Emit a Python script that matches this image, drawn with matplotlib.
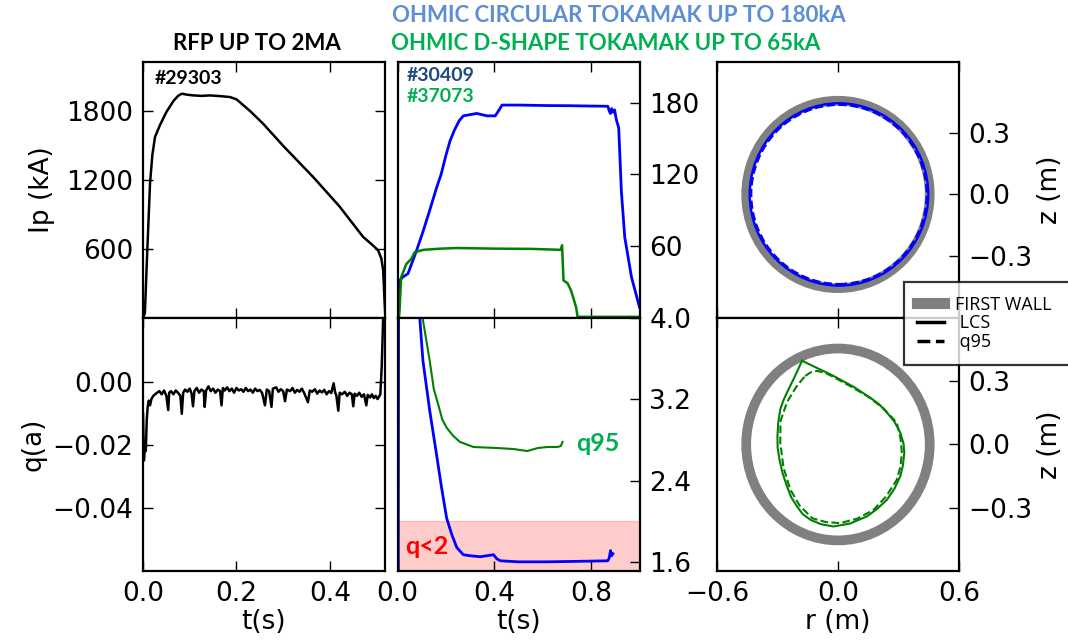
import numpy as np
import matplotlib
matplotlib.use("Agg")
import matplotlib.pyplot as plt
from matplotlib.patches import Circle
from matplotlib.lines import Line2D

# ---------------- DATA ----------------
# RFP plasma current (#29303)
t_rfp = [0.000, 0.004, 0.0092, 0.015, 0.020, 0.0257, 0.036, 0.050, 0.065, 0.075, 0.083, 0.095, 0.108,
         0.125, 0.143, 0.165, 0.186, 0.200, 0.207, 0.230, 0.257, 0.300, 0.364, 0.420, 0.471,
         0.490, 0.503, 0.510, 0.514, 0.517, 0.519]
ip_rfp = [0, 43, 591, 1171, 1420, 1577, 1678, 1794, 1890, 1935, 1954, 1945, 1939,
          1935, 1939, 1933, 1925, 1905, 1881, 1800, 1693, 1500, 1229, 975, 707,
          640, 591, 520, 417, 150, 0]

# RFP reversal parameter q(a)
t_qa = [0.000, 0.002, 0.004, 0.006, 0.008, 0.010, 0.0124, 0.015, 0.018, 0.022, 0.026,
        0.030, 0.035, 0.040, 0.045, 0.050, 0.054, 0.056, 0.060, 0.065, 0.070, 0.075,
        0.080, 0.083, 0.086, 0.090, 0.095, 0.100, 0.104, 0.107, 0.110, 0.115, 0.120,
        0.125, 0.130, 0.132, 0.135, 0.140, 0.145, 0.150, 0.155, 0.160, 0.165, 0.168,
        0.171, 0.175, 0.180, 0.185, 0.190, 0.195, 0.200, 0.205, 0.210, 0.215, 0.220,
        0.225, 0.230, 0.235, 0.240, 0.245, 0.250, 0.255, 0.261, 0.265, 0.270, 0.275,
        0.278, 0.285, 0.290, 0.295, 0.300, 0.304, 0.308, 0.315, 0.320, 0.325, 0.330,
        0.335, 0.340, 0.345, 0.353, 0.357, 0.362, 0.368, 0.373, 0.378, 0.383, 0.388,
        0.393, 0.398, 0.403, 0.408, 0.411, 0.414, 0.418, 0.421, 0.426, 0.432, 0.437,
        0.442, 0.447, 0.450, 0.453, 0.458, 0.463, 0.468, 0.473, 0.478, 0.481, 0.486,
        0.490, 0.494, 0.498, 0.502, 0.505, 0.508, 0.511, 0.513, 0.515]
qa = [-0.010, -0.025, -0.020, -0.022, -0.012, -0.008, -0.006, -0.0075, -0.0055, -0.0045, -0.0040,
      -0.0035, -0.0030, -0.0040, -0.0028, -0.0045, -0.0090, -0.0035, -0.0030, -0.0040, -0.0028, -0.0035,
      -0.0045, -0.0102, -0.0035, -0.0025, -0.0032, -0.0022, -0.0038, -0.0078, -0.0030, -0.0020, -0.0035,
      -0.0025, -0.0030, -0.0080, -0.0028, -0.0015, -0.0030, -0.0022, -0.0035, -0.0025, -0.0030, -0.0075,
      -0.0020, -0.0028, -0.0018, -0.0030, -0.0022, -0.0035, -0.0020, -0.0028, -0.0024, -0.0032, -0.0020,
      -0.0030, -0.0025, -0.0035, -0.0022, -0.0030, -0.0026, -0.0036, -0.0075, -0.0025, -0.0030, -0.0080,
      -0.0022, -0.0018, -0.0032, -0.0024, -0.0030, -0.0062, -0.0025, -0.0030, -0.0020, -0.0035, -0.0026,
      -0.0032, -0.0022, -0.0036, -0.0065, -0.0028, -0.0032, -0.0024, -0.0038, -0.0028, -0.0034, -0.0026,
      -0.0040, -0.0030, -0.0036, -0.0005, -0.0032, -0.0045, -0.0092, -0.0035, -0.0040, -0.0032, -0.0045,
      -0.0035, -0.0040, -0.0078, -0.0038, -0.0045, -0.0035, -0.0048, -0.0040, -0.0075, -0.0042, -0.0050,
      -0.0040, -0.0052, -0.0045, -0.0055, -0.0048, -0.0040, 0.0050, 0.0150, 0.0250]

# Ohmic circular tokamak Ip (#30409)
t_circ = [0.000, 0.004, 0.008, 0.020, 0.043, 0.078, 0.105, 0.133, 0.160, 0.180, 0.200,
          0.217, 0.235, 0.255, 0.272, 0.300, 0.327, 0.370, 0.404, 0.420, 0.432, 0.500, 0.619,
          0.700, 0.800, 0.869, 0.875, 0.880, 0.885, 0.890, 0.897, 0.904, 0.914, 0.925,
          0.939, 0.967, 1.000]
ip_circ = [0, 5, 31, 34, 37, 56, 72, 90, 108, 120, 136,
           148, 157, 165, 169, 170, 171, 169, 169, 174, 178, 178, 177.6,
           177.5, 177.2, 177, 173, 171, 175, 172, 174, 166, 159, 106,
           67.5, 34, 9]

# Ohmic D-shape tokamak Ip (#37073)
t_dsh = [0.006, 0.008, 0.015, 0.036, 0.057, 0.071, 0.107, 0.180, 0.246, 0.400, 0.550,
         0.675, 0.680, 0.683, 0.686, 0.703, 0.717, 0.738, 0.744, 0.800, 1.000]
ip_dsh = [0, 5, 34, 45, 49.5, 55, 57, 58, 58.5, 58, 57.8,
          57, 60.8, 45, 31.4, 29, 23, 9, 1, 1, 1]

# Circular tokamak q95
t_qc = [0.003, 0.006, 0.050, 0.092, 0.105, 0.133, 0.161, 0.182, 0.203, 0.224, 0.245,
        0.272, 0.300, 0.342, 0.397, 0.410, 0.425, 0.500, 0.619, 0.750, 0.869, 0.875,
        0.880, 0.885, 0.890]
q_circ = [1.0, 8.0, 8.0, 4.0, 3.58, 3.09, 2.66, 2.33, 2.03, 1.87, 1.74,
          1.67, 1.66, 1.65, 1.67, 1.63, 1.61, 1.60, 1.60, 1.605, 1.61, 1.64,
          1.71, 1.66, 1.68]

# D-shape tokamak q95
t_qd = [0.095, 0.105, 0.133, 0.150, 0.168, 0.185, 0.203, 0.230, 0.258, 0.314, 0.411,
        0.480, 0.536, 0.580, 0.619, 0.661, 0.675, 0.682]
q_dsh = [5.0, 3.98, 3.58, 3.30, 3.15, 3.00, 2.92, 2.84, 2.78, 2.73, 2.72,
         2.71, 2.69, 2.72, 2.73, 2.73, 2.74, 2.78]

# Poloidal cross sections
wall_radius = 0.455
circ_lcs_radius = 0.443
circ_q95_radius = 0.435
circ_center = (0.005, 0.0)

lcs_r = [-0.178, -0.100, -0.022, 0.080, 0.160, 0.205, 0.243, 0.280, 0.309, 0.325, 0.329,
         0.322, 0.309, 0.280, 0.243, 0.195, 0.144, 0.060, -0.022,
         -0.085, -0.137, -0.175, -0.203, -0.232, -0.253, -0.275, -0.290, -0.299, -0.300,
         -0.296, -0.286, -0.270, -0.253, -0.215, -0.178]
lcs_z = [0.397, 0.361, 0.325, 0.272, 0.222, 0.190, 0.151, 0.108, 0.056, 0.005, -0.040,
         -0.100, -0.151, -0.210, -0.262, -0.305, -0.341, -0.375, -0.389,
         -0.378, -0.357, -0.330, -0.294, -0.250, -0.198, -0.135, -0.071, -0.015, 0.040,
         0.105, 0.167, 0.210, 0.246, 0.320, 0.397]
q95_r = [-0.162, -0.135, -0.104, -0.060, -0.022, 0.060, 0.144, 0.225, 0.292, 0.310, 0.317,
         0.310, 0.292, 0.240, 0.177, 0.095, 0.011, -0.060, -0.127, -0.190,
         -0.236, -0.270, -0.286, -0.285, -0.253, -0.225, -0.203, -0.180, -0.162]
q95_z = [0.325, 0.342, 0.349, 0.338, 0.320, 0.277, 0.230, 0.172, 0.103, 0.030, -0.040,
         -0.105, -0.167, -0.245, -0.310, -0.352, -0.373, -0.368, -0.350, -0.290,
         -0.214, -0.110, 0.008, 0.110, 0.200, 0.245, 0.278, 0.305, 0.325]

# ---------------- STYLE ----------------
plt.rcParams.update({
    "font.family": ["DejaVu Sans"],
    "font.size": 19,
    "axes.linewidth": 1.6,
    "xtick.direction": "in",
    "ytick.direction": "in",
    "xtick.major.size": 7,
    "ytick.major.size": 7,
    "xtick.major.width": 1.0,
    "ytick.major.width": 1.0,
    "xtick.major.pad": 7,
    "ytick.major.pad": 7,
    "axes.unicode_minus": True,
})

BLUE = "#0000FF"
GREEN = "#008000"
TXT_GREEN = "#00B050"
TITLE_BLUE = "#5B8ED6"
DARK_BLUE = "#1F497D"
TFONT = ["Lato", "DejaVu Sans"]

fig = plt.figure(figsize=(10.68, 6.44), dpi=100)

W = 0.2266
x_left, x_mid, x_right = 0.1339, 0.3722, 0.6713
y_top, h_top = 0.5062, 0.3975
y_bot, h_bot = 0.1134, 0.3929

ax1 = fig.add_axes([x_left, y_top, W, h_top])
ax2 = fig.add_axes([x_left, y_bot, W, h_bot])
ax3 = fig.add_axes([x_mid, y_top, W, h_top])
ax4 = fig.add_axes([x_mid, y_bot, W, h_bot])
ax5 = fig.add_axes([x_right, y_top, W, h_top])
ax6 = fig.add_axes([x_right, y_bot, W, h_bot])

for ax in (ax1, ax2, ax3, ax4, ax5, ax6):
    ax.tick_params(top=True, bottom=True)

# --- RFP Ip ---
ax1.plot(t_rfp, ip_rfp, color="black", lw=1.8)
ax1.set_xlim(0, 0.518)
ax1.set_ylim(0, 2230)
ax1.set_yticks([600, 1200, 1800])
ax1.set_xticks([0.0, 0.2, 0.4])
ax1.tick_params(labelbottom=False, right=True, left=True)
ax1.set_ylabel("Ip (kA)", labelpad=8)
ax1.text(0.05, 0.97, "#29303", transform=ax1.transAxes, ha="left", va="top",
         fontsize=14, fontweight="bold", family=TFONT, color="black")

# --- RFP q(a) ---
ax2.plot(t_qa, qa, color="black", lw=1.8)
ax2.set_xlim(0, 0.518)
ax2.set_ylim(-0.06, 0.0202)
ax2.set_yticks([0.0, -0.02, -0.04])
ax2.set_yticklabels(["0.00", "\u22120.02", "\u22120.04"])
ax2.set_xticks([0.0, 0.2, 0.4])
ax2.set_xticklabels(["0.0", "0.2", "0.4"])
ax2.tick_params(right=True, left=True)
ax2.set_ylabel("q(a)")
ax2.set_xlabel("t(s)", labelpad=2)

# --- Tokamak Ip ---
ax3.plot(t_circ, ip_circ, color=BLUE, lw=2.0)
ax3.plot(t_dsh, ip_dsh, color=GREEN, lw=1.8)
ax3.set_xlim(0, 1.0)
ax3.set_ylim(0, 214)
ax3.set_xticks([0.0, 0.4, 0.8])
ax3.set_yticks([60, 120, 180])
ax3.yaxis.tick_right()
ax3.tick_params(labelbottom=False, top=True, bottom=True)
ax3.text(0.04, 0.98, "#30409", transform=ax3.transAxes, ha="left", va="top",
         fontsize=14, fontweight="bold", family=TFONT, color=DARK_BLUE)
ax3.text(0.04, 0.90, "#37073", transform=ax3.transAxes, ha="left", va="top",
         fontsize=14, fontweight="bold", family=TFONT, color=TXT_GREEN)

# --- Tokamak q ---
ax4.axhspan(1.5, 2.0, color="red", alpha=0.2, lw=1)
ax4.plot(t_qc, q_circ, color=BLUE, lw=2.0)
ax4.plot(t_qd, q_dsh, color=GREEN, lw=1.5)
ax4.set_xlim(0, 1.0)
ax4.set_ylim(1.51, 4.0)
ax4.set_xticks([0.0, 0.4, 0.8])
ax4.set_xticklabels(["0.0", "0.4", "0.8"])
ax4.set_yticks([1.6, 2.4, 3.2, 4.0])
ax4.yaxis.tick_right()
ax4.tick_params(top=True, bottom=True)
ax4.set_xlabel("t(s)", labelpad=2)
ax4.text(0.74, 0.505, "q95", transform=ax4.transAxes, ha="left", va="center",
         fontsize=18, fontweight="bold", family=TFONT, color=TXT_GREEN)
ax4.text(0.03, 0.095, "q<2", transform=ax4.transAxes, ha="left", va="center",
         fontsize=18, fontweight="bold", family=TFONT, color="red")

# --- circular cross section ---
ax5.add_patch(Circle((0, 0), wall_radius, fill=False, ec="gray", lw=7))
ax5.add_patch(Circle(circ_center, circ_lcs_radius, fill=False, ec=BLUE, lw=1.6))
ax5.add_patch(Circle(circ_center, circ_q95_radius, fill=False, ec=BLUE, lw=1.6, ls="--"))
ax5.set_xlim(-0.6, 0.6)
ax5.set_ylim(-0.6, 0.643)
ax5.set_xticks([-0.6, 0.0, 0.6])
ax5.set_yticks([-0.3, 0.0, 0.3])
ax5.set_yticklabels(["\u22120.3", "0.0", "0.3"])
ax5.yaxis.tick_right()
ax5.yaxis.set_label_position("right")
ax5.tick_params(labelbottom=False, top=True, bottom=True)
ax5.set_ylabel("z (m)", labelpad=3)

# --- D-shape cross section ---
ax6.add_patch(Circle((0, 0), wall_radius, fill=False, ec="gray", lw=7))
ax6.plot(lcs_r, lcs_z, color=GREEN, lw=1.5)
ax6.plot(q95_r, q95_z, color=GREEN, lw=1.5, ls="--")
ax6.set_xlim(-0.6, 0.6)
ax6.set_ylim(-0.6, 0.6)
ax6.set_xticks([-0.6, 0.0, 0.6])
ax6.set_xticklabels(["\u22120.6", "0.0", "0.6"])
ax6.set_yticks([-0.3, 0.0, 0.3])
ax6.set_yticklabels(["\u22120.3", "0.0", "0.3"])
ax6.yaxis.tick_right()
ax6.yaxis.set_label_position("right")
ax6.tick_params(top=True, bottom=True)
ax6.set_ylabel("z (m)", labelpad=3)
ax6.set_xlabel("r (m)", labelpad=2)

# legend
handles = [Line2D([], [], color="gray", lw=8),
           Line2D([], [], color="black", lw=2.5),
           Line2D([], [], color="black", lw=2.5, ls="--")]
leg = fig.legend(handles, ["FIRST WALL    ", " LCS", " q95"],
                 loc="upper left", bbox_to_anchor=(0.846, 1 - 282 / 644),
                 prop={"family": ["Open Sans", "DejaVu Sans"], "size": 13},
                 frameon=True, fancybox=False, handlelength=1.5,
                 handletextpad=0.6, labelspacing=0.05, borderpad=0.75,
                 borderaxespad=0)
leg.get_frame().set_edgecolor("black")
leg.get_frame().set_linewidth(1.6)

# titles
fig.text(0.5796, 1 - 16 / 644, "OHMIC CIRCULAR TOKAMAK UP TO 180kA", ha="center",
         va="center", fontsize=16, fontweight="bold", family=TFONT, color=TITLE_BLUE)
fig.text(0.5674, 1 - 43 / 644, "OHMIC D-SHAPE TOKAMAK UP TO 65kA", ha="center",
         va="center", fontsize=16, fontweight="bold", family=TFONT, color=TXT_GREEN)
fig.text(0.241, 1 - 44 / 644, "RFP UP TO 2MA", ha="center",
         va="center", fontsize=16, fontweight="bold", family=TFONT, color="black")

fig.savefig("out.png", dpi=100)
